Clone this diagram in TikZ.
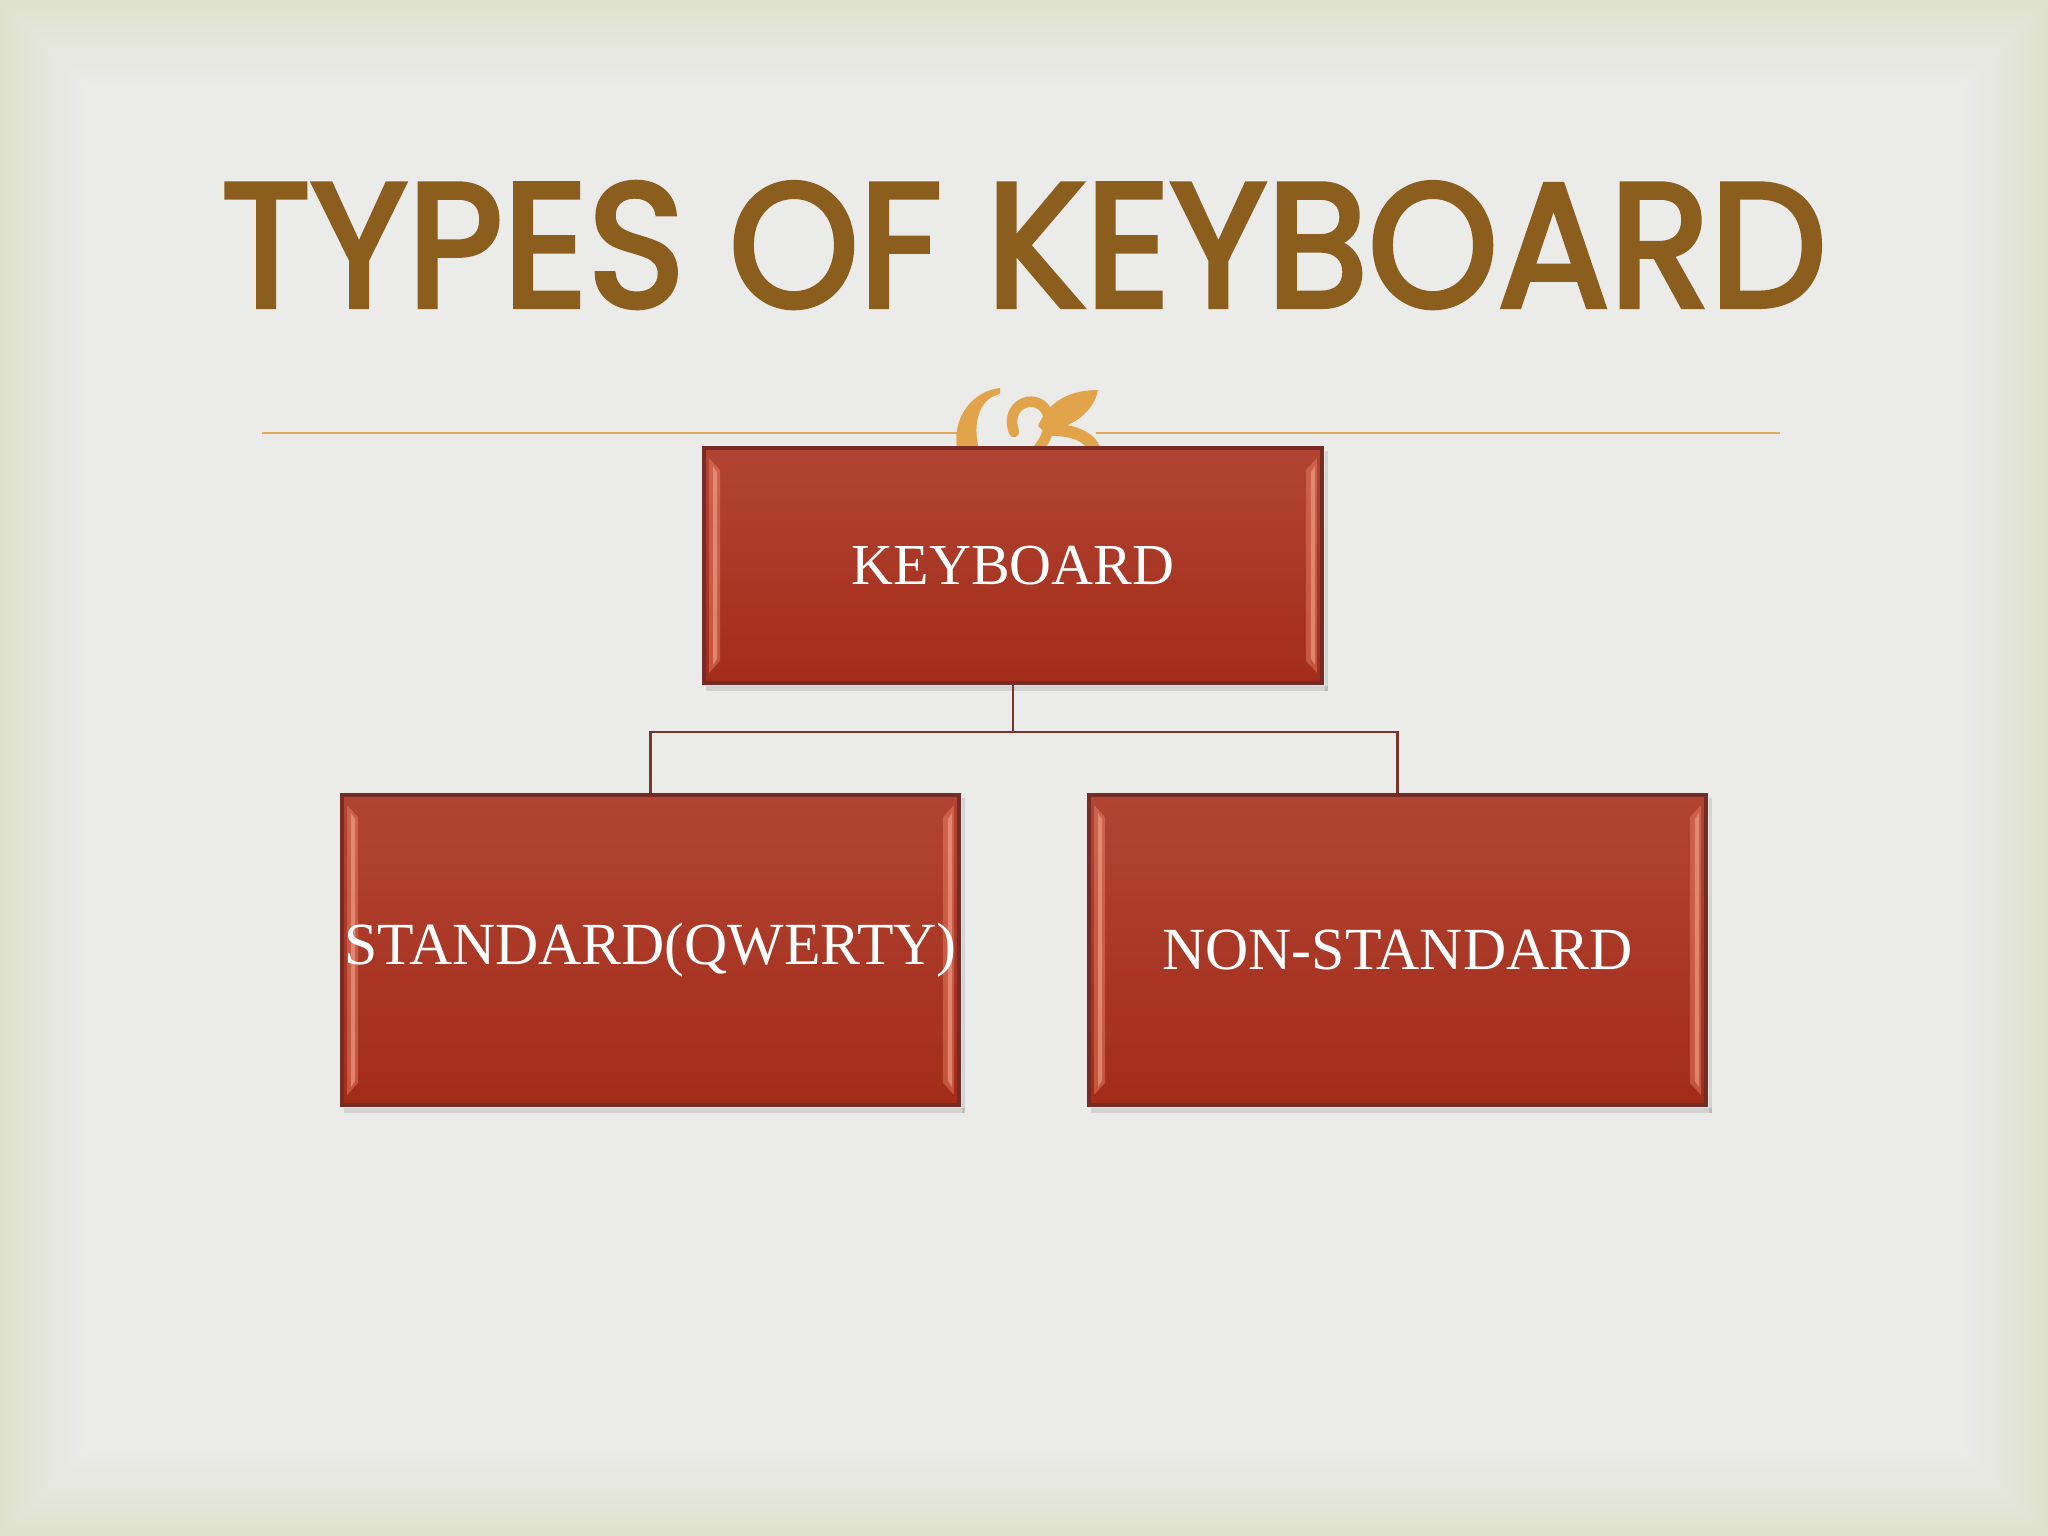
\documentclass[tikz,border=0pt]{standalone}
\usepackage{fontspec}
\usepackage{graphicx}
\usetikzlibrary{calc}
\newfontfamily\titlefont{Poppins}[FakeBold=3]
\newfontfamily\boxfont{Liberation Serif}
\definecolor{bgedge}{RGB}{224,226,208}
\definecolor{bginner}{RGB}{235,235,233}
\definecolor{titlebrown}{RGB}{139,94,30}
\definecolor{rulegold}{RGB}{222,172,92}
\definecolor{ornament}{RGB}{226,164,74}
\definecolor{boxtop}{RGB}{178,68,52}
\definecolor{boxbot}{RGB}{162,44,24}
\definecolor{boxline}{RGB}{118,44,36}
\definecolor{bevelc}{RGB}{240,135,105}
\definecolor{connc}{RGB}{122,52,42}
\tikzset{
  redbox/.style={draw=boxline, line width=1pt, top color=boxtop, bottom color=boxbot,
    inner sep=0pt},
  boxtext/.style={text=white, font=\boxfont\fontsize{16.5}{18}\selectfont},
  boxtextl/.style={text=white, font=\boxfont\fontsize{17}{19}\selectfont},
  conn/.style={draw=connc, line width=0.7pt},
  bevel/.style={fill=bevelc, opacity=0.45},
  bevelcore/.style={fill=bevelc!70!white, opacity=0.55},
  shade/.style={fill=black, opacity=0.10}
}
\newcommand{\bevelstrips}[1]{%
  \fill[shade] ($(#1.south west)+(4,1)$) rectangle ($(#1.south east)+(4,6)$);
  \fill[shade] ($(#1.north east)+(1,5)$) rectangle ($(#1.south east)+(4,6)$);
  \fill[bevel] ($(#1.north west)+(7,12)$) -- ($(#1.north west)+(18,24)$) -- ($(#1.south west)+(18,-24)$) -- ($(#1.south west)+(7,-12)$) -- cycle;
  \fill[bevelcore] ($(#1.north west)+(11,20)$) -- ($(#1.north west)+(15,26)$) -- ($(#1.south west)+(15,-26)$) -- ($(#1.south west)+(11,-20)$) -- cycle;
  \fill[bevel] ($(#1.north east)+(-7,12)$) -- ($(#1.north east)+(-18,24)$) -- ($(#1.south east)+(-18,-24)$) -- ($(#1.south east)+(-7,-12)$) -- cycle;
  \fill[bevelcore] ($(#1.north east)+(-9,20)$) -- ($(#1.north east)+(-13,26)$) -- ($(#1.south east)+(-13,-26)$) -- ($(#1.south east)+(-9,-20)$) -- cycle;
}
\begin{document}
\begin{tikzpicture}[x=0.01cm,y=-0.01cm]
\useasboundingbox (0,0) rectangle (2048,1536);
% background with soft greenish border
\foreach \i in {0,...,14}{
  \pgfmathtruncatemacro{\p}{\i*100/14}
  \pgfmathsetmacro{\d}{\i*6}
  \pgfmathsetmacro{\xe}{2048-\d}
  \pgfmathsetmacro{\ye}{1536-\d}
  \fill[bginner!\p!bgedge] (\d,\d) rectangle (\xe,\ye);
}
% title
\node[inner sep=0pt, text=titlebrown] (title) at (1024,245)
  {\resizebox{16.04cm}{1.24cm}{\titlefont TYPES OF KEYBOARD}};
% rule
\coordinate (ruleL) at (262,433);
\coordinate (ruleR) at (1780,433);
\coordinate (ornL) at (958,433);
\coordinate (ornR) at (1096,433);
\draw[rulegold, line width=0.8pt] (ruleL) -- (ornL);
\draw[rulegold, line width=0.8pt] (ornR) -- (ruleR);
% ornament
\fill[ornament] (1000,388) .. controls (966,392) and (948,428) .. (960,458) -- (982,458)
  .. controls (970,428) and (978,398) .. (1000,394) -- cycle;
\draw[ornament, line width=3pt, line cap=round] (1014,432) .. controls (1004,405) and (1034,392) .. (1046,410)
  .. controls (1054,424) and (1046,440) .. (1036,452);
\fill[ornament] (1038,426) .. controls (1050,398) and (1074,390) .. (1098,390)
  .. controls (1094,412) and (1072,428) .. (1044,432) -- cycle;
\draw[ornament, line width=3.4pt] (1044,430) .. controls (1080,428) and (1098,442) .. (1096,460);
% boxes
\node[redbox, minimum width=6.18cm, minimum height=2.35cm] (top) at (1013,565.5) {};
\node[redbox, minimum width=6.17cm, minimum height=3.10cm] (left) at (650.5,950) {};
\node[redbox, minimum width=6.17cm, minimum height=3.10cm] (right) at (1397.5,950) {};
\bevelstrips{top}
\bevelstrips{left}
\bevelstrips{right}
\node[boxtext] (tkey) at (top) {KEYBOARD};
\node[boxtextl] (tstd) at (left) {STANDARD(QWERTY)};
\node[boxtextl] (tnon) at (right) {NON-STANDARD};
% connectors
\coordinate (bus) at ($(top.south)+(0,47)$);
\draw[conn] (top.south) -- (bus);
\draw[conn] (bus) -| (left.north);
\draw[conn] (bus) -| (right.north);
\end{tikzpicture}
\end{document}
